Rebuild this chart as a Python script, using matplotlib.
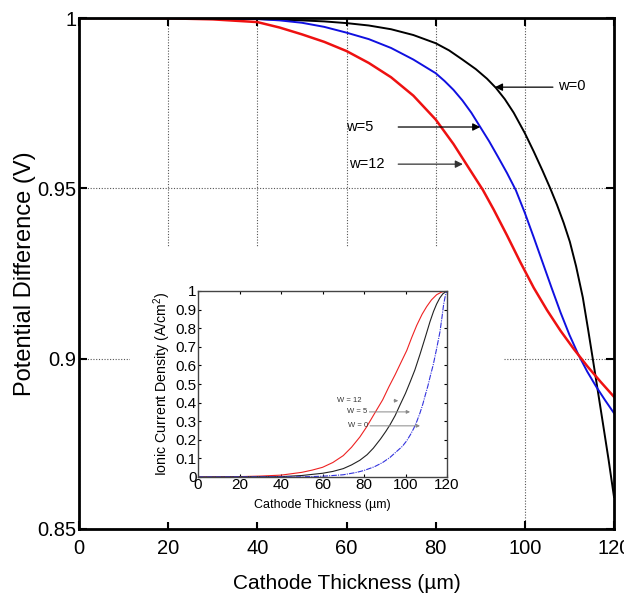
import numpy as np
import matplotlib
matplotlib.use("Agg")
import matplotlib.pyplot as plt
from matplotlib.patches import Rectangle

# DATA -------------------------------------------

# main plot: potential difference vs cathode thickness
x_w0 = [0, 10, 20, 30, 40, 45, 50, 55, 60, 65, 70, 75, 80, 83, 86, 89, 91.5,
        93.5, 95.5, 97.5, 100, 102, 104, 105.7, 107.2, 108.7, 110.1, 111.5, 113,
        114.2, 115.2, 116.4, 117.6, 118.8, 120]
v_w0 = [1.0, 1.0, 1.0, 0.9999, 0.9997, 0.9995, 0.9993, 0.999, 0.9985, 0.9978,
        0.9967, 0.995, 0.9926, 0.9905, 0.9878, 0.985, 0.9822, 0.9795, 0.9762,
        0.9722, 0.9662, 0.9608, 0.9551, 0.95, 0.9452, 0.9399, 0.9343, 0.9271,
        0.918, 0.9085, 0.9003, 0.8903, 0.8803, 0.8702, 0.8594]

x_w5 = [0, 10, 20, 30, 40, 45, 50, 55, 60, 65, 70, 75, 80, 82, 84, 86, 88, 90,
        92, 94, 96, 98, 100, 102, 104, 106, 108, 110, 112, 114, 116, 118, 120]
v_w5 = [1.0, 1.0, 1.0, 0.9999, 0.9997, 0.9993, 0.9986, 0.9974, 0.9957, 0.9938,
        0.9912, 0.9878, 0.9838, 0.9815, 0.9789, 0.9758, 0.9722, 0.968, 0.9638,
        0.9592, 0.9545, 0.9494, 0.9428, 0.9356, 0.9282, 0.9208, 0.9136, 0.907,
        0.9012, 0.8962, 0.8918, 0.8878, 0.884]

x_w12 = [0, 10, 20, 30, 40, 45, 50, 55, 60, 65, 70, 75, 80, 84, 88, 90.6, 93,
         96, 99, 102, 105, 108, 111, 114, 117, 120]
v_w12 = [1.0, 1.0, 0.9999, 0.9996, 0.9988, 0.9972, 0.9952, 0.993, 0.9903,
         0.9868, 0.9826, 0.9772, 0.9702, 0.963, 0.9548, 0.9495, 0.9438, 0.9362,
         0.9283, 0.9208, 0.9142, 0.9082, 0.9028, 0.8978, 0.8932, 0.8888]

# inset: ionic current density vs cathode thickness
xi_w12 = [0, 20, 30, 40, 50, 55, 60, 65, 70, 74, 78, 81.3, 85, 89, 92, 95, 98,
          100.6, 103, 105.4, 108, 110.2, 112.5, 115, 117.5, 120]
ji_w12 = [0, 0.002, 0.005, 0.01, 0.025, 0.037, 0.052, 0.078, 0.115, 0.16, 0.215,
          0.27, 0.34, 0.415, 0.485, 0.55, 0.62, 0.68, 0.75, 0.815, 0.875, 0.916,
          0.952, 0.98, 0.995, 1.0]

xi_w5 = [0, 40, 50, 60, 65, 70, 74, 78, 81.5, 84.5, 88, 90.5, 92.5, 95, 97.3, 100,
         102.2, 104.5, 107, 109.5, 111.8, 113.5, 115, 116.5, 118, 120]
ji_w5 = [0, 0.002, 0.008, 0.02, 0.03, 0.045, 0.065, 0.09, 0.12, 0.155, 0.205,
         0.245, 0.28, 0.33, 0.386, 0.45, 0.51, 0.575, 0.66, 0.75, 0.835, 0.89,
         0.93, 0.962, 0.985, 1.0]

xi_w0 = [0, 50, 60, 70, 76.5, 80, 85, 89, 92.5, 96, 98.5, 100.6, 102.5, 104,
         105.5, 107, 108.3, 109.4, 110.8, 112, 113.4, 115, 116.6, 117.6, 118.4,
         119.2, 120]
ji_w0 = [0, 0.001, 0.004, 0.012, 0.025, 0.035, 0.055, 0.078, 0.105, 0.14, 0.165,
         0.195, 0.23, 0.262, 0.3, 0.345, 0.39, 0.435, 0.49, 0.545, 0.605, 0.69,
         0.78, 0.86, 0.93, 0.975, 1.0]

x_ticks = [0, 20, 40, 60, 80, 100, 120]
y_ticks = [0.85, 0.9, 0.95, 1.0]
y_ticklabels = ["0.85", "0.9", "0.95", "1"]
inset_yticks = [0, 0.1, 0.2, 0.3, 0.4, 0.5, 0.6, 0.7, 0.8, 0.9, 1.0]
inset_yticklabels = ["0", "0.1", "0.2", "0.3", "0.4", "0.5", "0.6", "0.7", "0.8", "0.9", "1"]

# PLOTTING -------------------

plt.rcParams["font.family"] = ["Liberation Sans", "DejaVu Sans"]
plt.rcParams["mathtext.fontset"] = "custom"
plt.rcParams["mathtext.rm"] = "Liberation Sans"

W, H = 624, 598
fig = plt.figure(figsize=(W / 100, H / 100), dpi=100)

def fx(px):
    return px / W

def fy(py):
    return 1 - py / H

# main axes
ax = fig.add_axes([fx(79), fy(529), fx(614) - fx(79), fy(18) - fy(529)])
ax.plot(x_w0, v_w0, color="black", lw=1.4)
ax.plot(x_w5, v_w5, color="#1010e0", lw=1.4)
ax.plot(x_w12, v_w12, color="#ee1111", lw=1.8)

ax.set_xlim(0, 120)
ax.set_ylim(0.85, 1.0)
ax.set_xticks(x_ticks)
ax.set_yticks(y_ticks)
ax.set_yticklabels(y_ticklabels)
ax.tick_params(direction="in", length=6, width=1.5, top=True, right=True,
               labelsize=14.5, colors="black")
ax.tick_params(axis="x", pad=7)
ax.tick_params(axis="y", pad=2)
for s in ax.spines.values():
    s.set_linewidth(2)
ax.grid(True, color="#555555", linestyle=(0, (1, 1.5)), linewidth=0.8)
ax.set_xlabel("Cathode Thickness (\u00b5m)", fontsize=15, labelpad=12)
ax.set_ylabel("Potential Difference (V)", fontsize=17, labelpad=1)

arrow_kw = dict(arrowstyle="-|>", color="black", lw=0.9, mutation_scale=11,
                shrinkA=0, shrinkB=0)
ax.annotate("", xy=(93.3, 0.9797), xytext=(106.3, 0.9797), arrowprops=arrow_kw)
ax.text(107.4, 0.9800, "w=0", fontsize=10.5, va="center", ha="left")
ax.annotate("", xy=(90.0, 0.968), xytext=(71.6, 0.968), arrowprops=arrow_kw)
ax.text(60.0, 0.968, "w=5", fontsize=10.5, va="center", ha="left")
ax.annotate("", xy=(86.1, 0.9571),
            xytext=(71.6, 0.9571), arrowprops=dict(arrow_kw, color="#333333"))
ax.text(60.6, 0.9571, "w=12", fontsize=10.5, va="center", ha="left")

# white patch that hides the grid behind the inset
fig.add_artist(Rectangle((fx(130), fy(522)), fx(503) - fx(130), fy(247) - fy(522),
                         transform=fig.transFigure, facecolor="white",
                         edgecolor="none", zorder=0.5))

# inset
ins = fig.add_axes([fx(198), fy(477), fx(447) - fx(198), fy(291) - fy(477)], zorder=1)
ins.plot(xi_w12, ji_w12, color="#ee2222", lw=0.8)
ins.plot(xi_w5, ji_w5, color="#222222", lw=0.8)
ins.plot(xi_w0, ji_w0, color="#3333dd", lw=0.8, linestyle=(0, (5, 1, 1, 1)))
ins.set_xlim(0, 120)
ins.set_ylim(0, 1)
ins.set_xticks(x_ticks)
ins.set_yticks(inset_yticks)
ins.set_yticklabels(inset_yticklabels)
ins.tick_params(direction="in", length=2.5, width=0.8, top=True, right=True,
                labelsize=11, pad=1)
for s in ins.spines.values():
    s.set_linewidth(1.0)
    s.set_color("#444444")
ins.set_xlabel("Cathode Thickness (\u00b5m)", fontsize=9, labelpad=5)
ins.set_ylabel("Ionic Current Density (A/cm$^2$)", fontsize=10.2, labelpad=2)

small_arrow = dict(arrowstyle="-|>", color="#888888", lw=0.7, mutation_scale=5,
                   shrinkA=0, shrinkB=0)
ins.annotate("", xy=(96.5, 0.41), xytext=(94.5, 0.41), arrowprops=small_arrow)
ins.text(79.0, 0.41, "W = 12", fontsize=5.5, ha="right", va="center", color="#333333")
ins.annotate("", xy=(102.2, 0.35), xytext=(82.6, 0.35), arrowprops=small_arrow)
ins.text(81.5, 0.35, "W = 5", fontsize=5.5, ha="right", va="center", color="#333333")
ins.annotate("", xy=(107.0, 0.275), xytext=(82.9, 0.275), arrowprops=small_arrow)
ins.text(81.8, 0.275, "W = 0", fontsize=5.5, ha="right", va="center", color="#333333")

fig.savefig("out.png", dpi=100, facecolor="white")
